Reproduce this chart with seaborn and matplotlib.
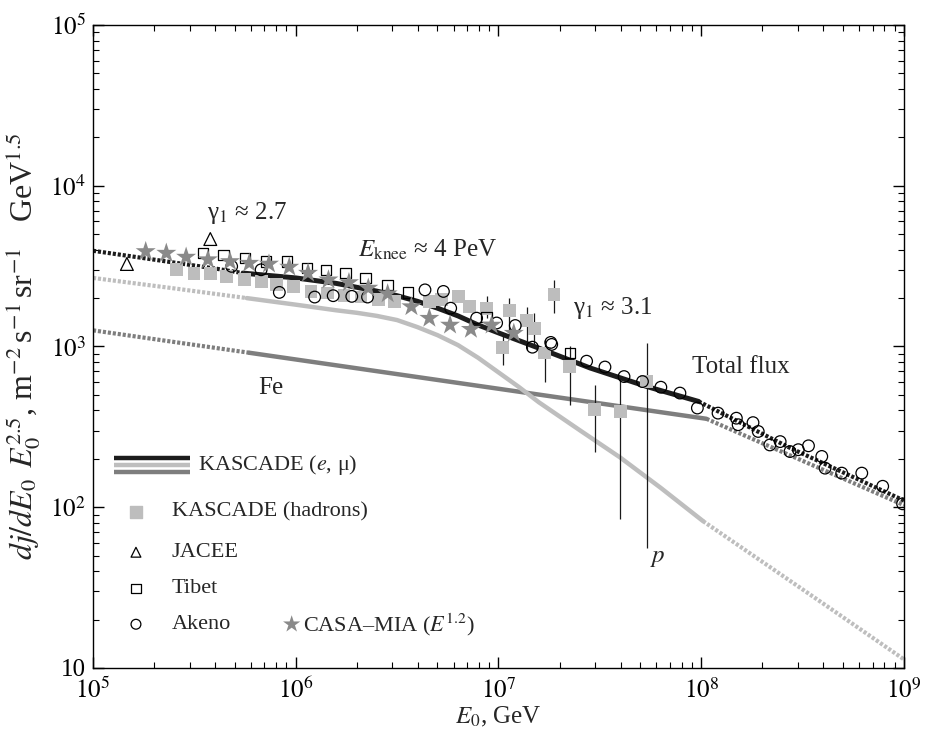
import matplotlib
matplotlib.use("Agg")
import matplotlib.pyplot as plt
import seaborn as sns
from matplotlib.ticker import FixedLocator, FixedFormatter, LogLocator, NullFormatter

# ---------------- data ----------------
# model curves: total flux
tot_left_E = [1e5, 2e5, 4.1e5, 5.5e5]
tot_left_F = [3940, 3470, 3040, 2860]
tot_solid_E = [5.5e5, 1e6, 1.58e6, 2.51e6, 3.16e6, 3.98e6, 5.01e6, 6.31e6, 7.94e6, 1e7,
               1.58e7, 2.83e7, 5.4e7, 9.7e7]
tot_solid_F = [2860, 2670, 2470, 2210, 2070, 1910, 1730, 1550, 1360, 1215,
               977, 735, 563, 455]
tot_right_E = [9.7e7, 2.74e8, 1e9]
tot_right_F = [455, 234, 110]

# protons
p_left_E = [1e5, 2.5e5, 5.73e5]
p_left_F = [2670, 2300, 2000]
p_solid_E = [5.73e5, 1e6, 1.58e6, 2e6, 2.51e6, 3.16e6, 3.98e6, 5.01e6, 6.31e6, 7.94e6,
             1e7, 1.26e7, 1.58e7, 2.51e7, 3.98e7, 6.31e7, 1.02e8]
p_solid_F = [2000, 1820, 1680, 1620, 1550, 1460, 1320, 1175, 1020, 850,
             690, 560, 450, 302, 204, 132, 82]
p_right_E = [1.02e8, 4.3e8, 1e9]
p_right_F = [82, 23.6, 11.3]

# iron
fe_left_E = [1e5, 5.9e5]
fe_left_F = [1260, 914]
fe_solid_E = [5.9e5, 1.06e8]
fe_solid_F = [914, 355]
fe_right_E = [1.06e8, 1e9]
fe_right_F = [355, 103]

# KASCADE (hadrons)
kh_E = [2.59e5, 3.15e5, 3.80e5, 4.56e5, 5.57e5, 6.75e5, 8.05e5, 9.73e5, 1.19e6, 1.44e6,
        1.73e6, 2.10e6, 2.55e6, 3.08e6, 4.56e6, 5.25e6, 6.34e6, 7.18e6, 8.73e6, 1.05e7,
        1.13e7, 1.38e7, 1.50e7, 1.69e7, 1.88e7, 2.24e7, 2.98e7, 3.99e7, 5.38e7]
kh_F = [3000, 2860, 2830, 2730, 2600, 2540, 2420, 2360, 2200, 2150,
        2070, 2030, 1950, 1900, 1900, 1950, 2050, 1770, 1730, 980,
        1680, 1450, 1300, 910, 2100, 753, 407, 394, 605]
# error bars of KASCADE (hadrons)
kh_err_E = [8.73e6, 1.05e7, 1.13e7, 1.38e7, 1.50e7, 1.69e7, 1.88e7, 2.24e7, 2.98e7, 3.99e7, 5.38e7]
kh_err_lo = [1500, 770, 1200, 955, 1020, 605, 1620, 434, 221, 85, 56]
kh_err_hi = [2050, 1180, 2010, 1770, 1620, 1100, 2600, 1000, 578, 638, 1050]

# JACEE
jacee_E = [1.47e5, 3.79e5]
jacee_F = [3260, 4660]

# Tibet
tibet_E = [3.49e5, 4.40e5, 5.62e5, 7.11e5, 9.02e5, 1.14e6, 1.41e6, 1.76e6, 2.21e6,
           2.84e6, 3.59e6, 8.73e6, 2.25e7]
tibet_F = [3810, 3720, 3550, 3380, 3380, 3080, 3000, 2860, 2670,
           2420, 2170, 1520, 910]

# Akeno
akeno_E = [4.83e5, 6.75e5, 8.30e5, 1.24e6, 1.53e6, 1.89e6, 2.26e6, 4.34e6, 5.35e6, 5.81e6,
           7.80e6, 9.79e6, 1.21e7, 1.47e7, 1.81e7, 1.83e7, 2.72e7, 3.35e7, 4.16e7, 5.13e7,
           6.32e7, 7.85e7, 9.57e7, 1.21e8, 1.49e8, 1.52e8, 1.80e8, 1.91e8, 2.18e8, 2.45e8,
           2.74e8, 3.01e8, 3.38e8, 3.93e8, 4.08e8, 4.93e8, 6.19e8, 7.85e8, 9.84e8]
akeno_F = [3150, 3000, 2170, 2030, 2070, 2050, 2030, 2250, 2200, 1730,
           1500, 1400, 1350, 990, 1060, 1030, 810, 745, 650, 605,
           558, 513, 414, 385, 358, 326, 336, 296, 244, 256,
           222, 228, 241, 207, 175, 163, 163, 135, 105]

# CASA-MIA
casa_E = [1.82e5, 2.30e5, 2.88e5, 3.69e5, 4.74e5, 5.90e5, 7.38e5, 9.29e5, 1.15e6, 1.45e6,
          1.83e6, 2.28e6, 2.84e6, 3.72e6, 4.56e6, 5.77e6, 7.31e6, 9.25e6, 1.19e7]
casa_F = [3900, 3810, 3600, 3470, 3380, 3300, 3260, 3120, 2860, 2600,
          2500, 2310, 2130, 1770, 1500, 1360, 1280, 1360, 1210]

x_ticks = [1e5, 1e6, 1e7, 1e8, 1e9]
x_tick_labels = ["$10^5$", "$10^6$", "$10^7$", "$10^8$", "$10^9$"]
y_ticks = [10, 1e2, 1e3, 1e4, 1e5]
y_tick_labels = ["10", "$10^2$", "$10^3$", "$10^4$", "$10^5$"]

# ---------------- style ----------------
sns.set_theme(style="ticks")
plt.rcParams["font.family"] = ["Liberation Serif", "DejaVu Serif"]
plt.rcParams["mathtext.fontset"] = "stix"

C_TOT = "#1c1c1c"
C_P = "#bebebe"
C_FE = "#7e7e7e"
C_STAR = "#8a8a8a"
C_SQ = "#bdbdbd"
DOT = (0, (0.75, 0.45))
FS = 18
FS_LEG = 16

fig = plt.figure(figsize=(9.27, 7.35), dpi=100)
ax = fig.add_axes([0.1003, 0.0912, 0.8749, 0.8748])
ax.set_xscale("log")
ax.set_yscale("log")
ax.set_xlim(1e5, 1e9)
ax.set_ylim(10, 1e5)


def line(E, F, color, lw, ls):
    sns.lineplot(x=E, y=F, ax=ax, color=color, lw=lw, linestyle=ls,
                 estimator=None, sort=False, zorder=2)


# model curves
line(fe_left_E, fe_left_F, C_FE, 3.0, DOT)
line(fe_solid_E, fe_solid_F, C_FE, 3.2, "-")
line(fe_right_E, fe_right_F, C_FE, 3.0, DOT)
line(p_left_E, p_left_F, C_P, 3.0, DOT)
line(p_solid_E, p_solid_F, C_P, 3.2, "-")
line(p_right_E, p_right_F, C_P, 3.0, DOT)
line(tot_left_E, tot_left_F, C_TOT, 3.0, DOT)
line(tot_solid_E, tot_solid_F, C_TOT, 3.6, "-")
line(tot_right_E, tot_right_F, C_TOT, 3.0, DOT)

# error bars
ax.vlines(kh_err_E, kh_err_lo, kh_err_hi, color="#1a1a1a", lw=0.9, zorder=2.5)

# data points
sns.scatterplot(x=kh_E, y=kh_F, ax=ax, marker="s", s=85, color=C_SQ,
                edgecolor="none", linewidth=0, zorder=3)
sns.scatterplot(x=tibet_E, y=tibet_F, ax=ax, marker="s", s=55, color="black",
                facecolor="none", edgecolor="black", linewidth=0.9, zorder=4)
sns.scatterplot(x=akeno_E, y=akeno_F, ax=ax, marker="o", s=70, color="black",
                facecolor="none", edgecolor="black", linewidth=0.9, zorder=4)
sns.scatterplot(x=jacee_E, y=jacee_F, ax=ax, marker="^", s=85, color="black",
                facecolor="none", edgecolor="black", linewidth=0.9, zorder=4)
sns.scatterplot(x=casa_E, y=casa_F, ax=ax, marker="*", s=230, color=C_STAR,
                edgecolor="none", linewidth=0, zorder=5)

# annotations
ax.text(3.65e5, 6800, "γ$_1$ ≈ 2.7", fontsize=FS, va="center", ha="left")
ax.text(2.03e6, 4000, r"$E_\mathrm{knee}$ ≈ 4 PeV", fontsize=FS, va="center", ha="left")
ax.text(2.33e7, 1740, "γ$_1$ ≈ 3.1", fontsize=FS, va="center", ha="left")
ax.text(9.0e7, 748, "Total flux", fontsize=FS, va="center", ha="left")
ax.text(6.5e5, 553, "Fe", fontsize=FS, va="center", ha="left")
ax.text(5.6e7, 48, "$p$", fontsize=FS, va="center", ha="left")

# legend (manual, axes coordinates)
T = ax.transAxes
for yy, cc in zip([0.327, 0.316, 0.305], [C_TOT, C_P, C_FE]):
    ax.plot([0.026, 0.120], [yy, yy], transform=T, color=cc, lw=3.2,
            solid_capstyle="butt", zorder=6)
ax.text(0.129, 0.316, "KASCADE ($e$, μ)", transform=T, fontsize=FS_LEG, va="center")
ax.scatter([0.053], [0.243], transform=T, marker="s", s=80, color=C_SQ, zorder=6)
ax.text(0.097, 0.243, "KASCADE (hadrons)", transform=T, fontsize=FS_LEG, va="center")
ax.scatter([0.053], [0.180], transform=T, marker="^", s=50, facecolor="none",
           edgecolor="black", linewidth=0.9, zorder=6)
ax.text(0.097, 0.180, "JACEE", transform=T, fontsize=FS_LEG, va="center")
ax.scatter([0.053], [0.124], transform=T, marker="s", s=45, facecolor="none",
           edgecolor="black", linewidth=0.9, zorder=6)
ax.text(0.097, 0.124, "Tibet", transform=T, fontsize=FS_LEG, va="center")
ax.scatter([0.053], [0.068], transform=T, marker="o", s=50, facecolor="none",
           edgecolor="black", linewidth=0.9, zorder=6)
ax.text(0.097, 0.068, "Akeno", transform=T, fontsize=FS_LEG, va="center")
ax.scatter([0.245], [0.068], transform=T, marker="*", s=170, color=C_STAR,
           edgecolor="none", zorder=6)
ax.text(0.259, 0.068, "CASA–MIA ($E^{1.2}$)", transform=T, fontsize=FS_LEG, va="center")

# axes / ticks
ax.xaxis.set_major_locator(FixedLocator(x_ticks))
ax.xaxis.set_major_formatter(FixedFormatter(x_tick_labels))
ax.yaxis.set_major_locator(FixedLocator(y_ticks))
ax.yaxis.set_major_formatter(FixedFormatter(y_tick_labels))
for a in (ax.xaxis, ax.yaxis):
    a.set_minor_locator(LogLocator(base=10, subs=range(2, 10), numticks=20))
    a.set_minor_formatter(NullFormatter())
ax.tick_params(which="both", direction="in", top=True, right=True, colors="black",
               labelsize=FS)
ax.tick_params(which="major", length=8, width=1.0, pad=5)
ax.tick_params(axis="x", which="major", pad=7)
ax.tick_params(which="minor", length=4.5, width=0.8)
for s in ax.spines.values():
    s.set_color("black")
    s.set_linewidth(1.0)

ax.set_xlabel("$E_0$, GeV", fontsize=FS)
ax.set_ylabel(r"$dj/dE_0\;\,E_0^{2.5}$, m$^{-2}\,$s$^{-1}\,$sr$^{-1}$   GeV$^{1.5}$",
              fontsize=23)
ax.xaxis.set_label_coords(0.5, -0.057)
ax.yaxis.set_label_coords(-0.062, 0.50)
ax.grid(False)

fig.savefig("out.png", dpi=100)
